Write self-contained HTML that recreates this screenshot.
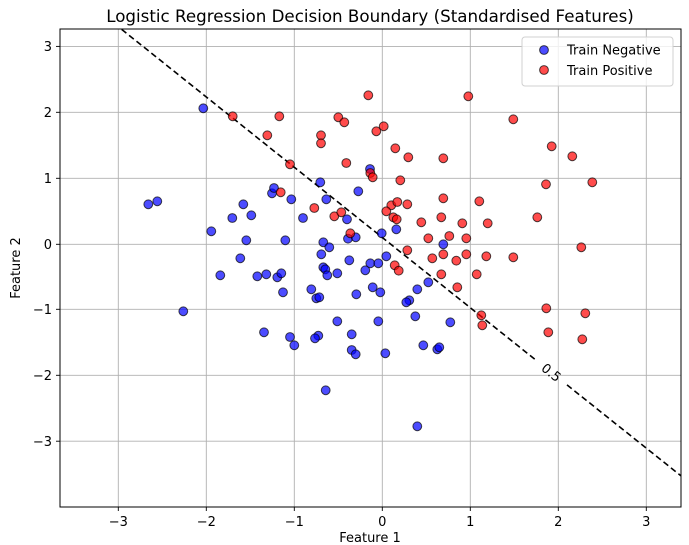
<!DOCTYPE html>
<html><head><meta charset="utf-8"><style>body{margin:0;background:#fff}svg{display:block;font-family:"DejaVu Sans","Liberation Sans",sans-serif}</style></head><body>
<svg width="689" height="545" viewBox="0 0 689 545" xmlns="http://www.w3.org/2000/svg">
<rect width="689" height="545" fill="#fff"/>
<defs><clipPath id="c"><rect x="60" y="29" width="621" height="478"/></clipPath></defs>
<g stroke="#b0b0b0" stroke-width="0.9">
<line x1="118.3" y1="29" x2="118.3" y2="507"/><line x1="206.3" y1="29" x2="206.3" y2="507"/><line x1="294.3" y1="29" x2="294.3" y2="507"/><line x1="382.3" y1="29" x2="382.3" y2="507"/><line x1="470.3" y1="29" x2="470.3" y2="507"/><line x1="558.3" y1="29" x2="558.3" y2="507"/><line x1="646.3" y1="29" x2="646.3" y2="507"/>
<line x1="60" y1="46.4" x2="681" y2="46.4"/><line x1="60" y1="112.3" x2="681" y2="112.3"/><line x1="60" y1="178.3" x2="681" y2="178.3"/><line x1="60" y1="244.3" x2="681" y2="244.3"/><line x1="60" y1="309.3" x2="681" y2="309.3"/><line x1="60" y1="375.3" x2="681" y2="375.3"/><line x1="60" y1="441.2" x2="681" y2="441.2"/>
</g>
<g clip-path="url(#c)">
<polyline points="40,-35.8 537,361" fill="none" stroke="#000" stroke-width="1.6" stroke-dasharray="6,3.5"/>
<polyline points="567,384.9 700,491" fill="none" stroke="#000" stroke-width="1.6" stroke-dasharray="6,3.5"/>
<text x="551" y="377" font-size="13" text-anchor="middle" transform="rotate(38.6 551 373)">0.5</text>
<g fill="rgba(0,0,255,0.7)" stroke="rgba(0,0,0,0.7)" stroke-width="1">
<circle cx="203.3" cy="108.3" r="4.4"/><circle cx="148.3" cy="204.3" r="4.4"/><circle cx="157.3" cy="201.3" r="4.4"/><circle cx="211.3" cy="231.3" r="4.4"/><circle cx="232.3" cy="218" r="4.4"/><circle cx="243.3" cy="204.3" r="4.4"/><circle cx="251.3" cy="215.3" r="4.4"/><circle cx="246.3" cy="240.3" r="4.4"/><circle cx="240.3" cy="258.3" r="4.4"/><circle cx="220.3" cy="275.3" r="4.4"/><circle cx="257.3" cy="276.3" r="4.4"/><circle cx="266.3" cy="274.3" r="4.4"/><circle cx="277.3" cy="277.3" r="4.4"/><circle cx="281.3" cy="273.3" r="4.4"/><circle cx="283" cy="292.3" r="4.4"/><circle cx="183.3" cy="311.3" r="4.4"/><circle cx="264" cy="332.3" r="4.4"/><circle cx="290" cy="337" r="4.4"/><circle cx="294.3" cy="345.3" r="4.4"/><circle cx="272" cy="193.3" r="4.4"/><circle cx="274" cy="188" r="4.4"/><circle cx="291.3" cy="199.3" r="4.4"/><circle cx="303" cy="218" r="4.4"/><circle cx="285.3" cy="240.3" r="4.4"/><circle cx="320.3" cy="182.3" r="4.4"/><circle cx="326.3" cy="199.3" r="4.4"/><circle cx="358.3" cy="191.3" r="4.4"/><circle cx="370" cy="169" r="4.4"/><circle cx="347" cy="219.3" r="4.4"/><circle cx="348" cy="238.7" r="4.4"/><circle cx="355.7" cy="237.3" r="4.4"/><circle cx="381.7" cy="233.3" r="4.4"/><circle cx="396.3" cy="229.3" r="4.4"/><circle cx="323.3" cy="242.3" r="4.4"/><circle cx="329.3" cy="247.3" r="4.4"/><circle cx="321.3" cy="254.3" r="4.4"/><circle cx="349.3" cy="260.3" r="4.4"/><circle cx="323.3" cy="267.3" r="4.4"/><circle cx="325.3" cy="269.3" r="4.4"/><circle cx="327.3" cy="275.3" r="4.4"/><circle cx="337.3" cy="273.3" r="4.4"/><circle cx="365.3" cy="270.3" r="4.4"/><circle cx="370.3" cy="263.3" r="4.4"/><circle cx="378.3" cy="263.3" r="4.4"/><circle cx="386.3" cy="256.3" r="4.4"/><circle cx="311.3" cy="289.3" r="4.4"/><circle cx="316.3" cy="298.3" r="4.4"/><circle cx="319.3" cy="297.3" r="4.4"/><circle cx="356.3" cy="294.3" r="4.4"/><circle cx="372.7" cy="287.3" r="4.4"/><circle cx="380.3" cy="292.3" r="4.4"/><circle cx="337.3" cy="321.3" r="4.4"/><circle cx="351.7" cy="334.3" r="4.4"/><circle cx="318.3" cy="335.7" r="4.4"/><circle cx="315" cy="338.3" r="4.4"/><circle cx="351.7" cy="350" r="4.4"/><circle cx="355.7" cy="354.3" r="4.4"/><circle cx="378.3" cy="321.3" r="4.4"/><circle cx="385.3" cy="353.3" r="4.4"/><circle cx="325.7" cy="390.3" r="4.4"/>
<circle cx="443.3" cy="244.3" r="4.4"/><circle cx="428.3" cy="282.3" r="4.4"/><circle cx="417.3" cy="289.3" r="4.4"/><circle cx="409.3" cy="300.3" r="4.4"/><circle cx="406.3" cy="302.3" r="4.4"/><circle cx="415.3" cy="316.3" r="4.4"/><circle cx="450.3" cy="322.3" r="4.4"/><circle cx="423.3" cy="345.3" r="4.4"/><circle cx="437.3" cy="349.3" r="4.4"/><circle cx="439.3" cy="347.3" r="4.4"/><circle cx="417.3" cy="426.3" r="4.4"/>
</g>
<g fill="rgba(255,0,0,0.7)" stroke="rgba(0,0,0,0.7)" stroke-width="1">
<circle cx="232.7" cy="116.3" r="4.4"/><circle cx="279.3" cy="116.3" r="4.4"/><circle cx="267.3" cy="135.3" r="4.4"/><circle cx="290" cy="164.3" r="4.4"/><circle cx="280.7" cy="192.3" r="4.4"/><circle cx="314.3" cy="208" r="4.4"/><circle cx="334.3" cy="216.3" r="4.4"/><circle cx="341.3" cy="212.3" r="4.4"/><circle cx="350.3" cy="233.3" r="4.4"/><circle cx="321" cy="135.3" r="4.4"/><circle cx="321" cy="143.3" r="4.4"/><circle cx="338.3" cy="117.3" r="4.4"/><circle cx="344.3" cy="122.3" r="4.4"/><circle cx="346.3" cy="163" r="4.4"/><circle cx="368.3" cy="95.3" r="4.4"/><circle cx="376.3" cy="131.3" r="4.4"/><circle cx="383.7" cy="126.3" r="4.4"/><circle cx="370.3" cy="173" r="4.4"/><circle cx="372.7" cy="177.3" r="4.4"/>
<circle cx="468.3" cy="96.3" r="4.4"/><circle cx="395.3" cy="148.3" r="4.4"/><circle cx="408.3" cy="157.3" r="4.4"/><circle cx="443.3" cy="158.3" r="4.4"/><circle cx="513.3" cy="119.3" r="4.4"/><circle cx="551.7" cy="146.3" r="4.4"/><circle cx="572.3" cy="156.3" r="4.4"/><circle cx="546" cy="184.3" r="4.4"/><circle cx="592.3" cy="182.3" r="4.4"/><circle cx="400.3" cy="180.3" r="4.4"/><circle cx="443.3" cy="198.3" r="4.4"/><circle cx="479.3" cy="201.3" r="4.4"/><circle cx="391.3" cy="205.3" r="4.4"/><circle cx="397.3" cy="202" r="4.4"/><circle cx="407.3" cy="204.3" r="4.4"/><circle cx="386.3" cy="211.3" r="4.4"/><circle cx="393.3" cy="217.3" r="4.4"/><circle cx="396.7" cy="219.3" r="4.4"/><circle cx="421.3" cy="222.3" r="4.4"/><circle cx="441.3" cy="217.3" r="4.4"/><circle cx="462.3" cy="223.3" r="4.4"/><circle cx="487.7" cy="223.3" r="4.4"/><circle cx="537.3" cy="217.3" r="4.4"/><circle cx="428.3" cy="238.3" r="4.4"/><circle cx="449.3" cy="236" r="4.4"/><circle cx="466.3" cy="238.3" r="4.4"/><circle cx="407.3" cy="250.3" r="4.4"/><circle cx="443.3" cy="254.3" r="4.4"/><circle cx="466.3" cy="254.3" r="4.4"/><circle cx="486.3" cy="256.3" r="4.4"/><circle cx="513.3" cy="257.3" r="4.4"/><circle cx="581.3" cy="247.3" r="4.4"/><circle cx="432.3" cy="258.3" r="4.4"/><circle cx="456.3" cy="260.7" r="4.4"/><circle cx="394.7" cy="265.3" r="4.4"/><circle cx="398.7" cy="270.7" r="4.4"/><circle cx="441.3" cy="274.3" r="4.4"/><circle cx="476.7" cy="274.3" r="4.4"/><circle cx="457.3" cy="287.3" r="4.4"/><circle cx="481.3" cy="315.3" r="4.4"/><circle cx="482.3" cy="325.3" r="4.4"/><circle cx="546.3" cy="308.3" r="4.4"/><circle cx="585.3" cy="313.3" r="4.4"/><circle cx="548.3" cy="332.3" r="4.4"/><circle cx="582.3" cy="339.3" r="4.4"/>
</g>
</g>
<rect x="60" y="29" width="621" height="478" fill="none" stroke="#000" stroke-width="1"/>
<g stroke="#000" stroke-width="0.9">
<line x1="118.3" y1="507" x2="118.3" y2="511"/><line x1="206.3" y1="507" x2="206.3" y2="511"/><line x1="294.3" y1="507" x2="294.3" y2="511"/><line x1="382.3" y1="507" x2="382.3" y2="511"/><line x1="470.3" y1="507" x2="470.3" y2="511"/><line x1="558.3" y1="507" x2="558.3" y2="511"/><line x1="646.3" y1="507" x2="646.3" y2="511"/>
<line x1="56" y1="46.4" x2="60" y2="46.4"/><line x1="56" y1="112.3" x2="60" y2="112.3"/><line x1="56" y1="178.3" x2="60" y2="178.3"/><line x1="56" y1="244.3" x2="60" y2="244.3"/><line x1="56" y1="309.3" x2="60" y2="309.3"/><line x1="56" y1="375.3" x2="60" y2="375.3"/><line x1="56" y1="441.2" x2="60" y2="441.2"/>
</g>
<g font-size="13" fill="#000" text-anchor="middle">
<text x="118.3" y="526">−3</text><text x="206.3" y="526">−2</text><text x="294.3" y="526">−1</text><text x="382.3" y="526">0</text><text x="470.3" y="526">1</text><text x="558.3" y="526">2</text><text x="646.3" y="526">3</text>
</g>
<g font-size="13" fill="#000" text-anchor="end">
<text x="52" y="51">3</text><text x="52" y="117">2</text><text x="52" y="183">1</text><text x="52" y="249">0</text><text x="52" y="314">−1</text><text x="52" y="380">−2</text><text x="52" y="446">−3</text>
</g>
<text x="370" y="542" font-size="13" text-anchor="middle">Feature 1</text>
<text x="20" y="268" font-size="13" text-anchor="middle" transform="rotate(-90 20 268)">Feature 2</text>
<text x="370" y="22" font-size="16.7" text-anchor="middle">Logistic Regression Decision Boundary (Standardised Features)</text>
<rect x="522" y="37" width="151" height="49" rx="3" fill="rgba(255,255,255,0.8)" stroke="#d0d0d0"/>
<circle cx="544" cy="50" r="4.4" fill="rgba(0,0,255,0.7)" stroke="rgba(0,0,0,0.7)"/>
<circle cx="544" cy="70" r="4.4" fill="rgba(255,0,0,0.7)" stroke="rgba(0,0,0,0.7)"/>
<text x="567" y="54.5" font-size="13">Train Negative</text>
<text x="567" y="75" font-size="13">Train Positive</text>
</svg>
</body></html>
